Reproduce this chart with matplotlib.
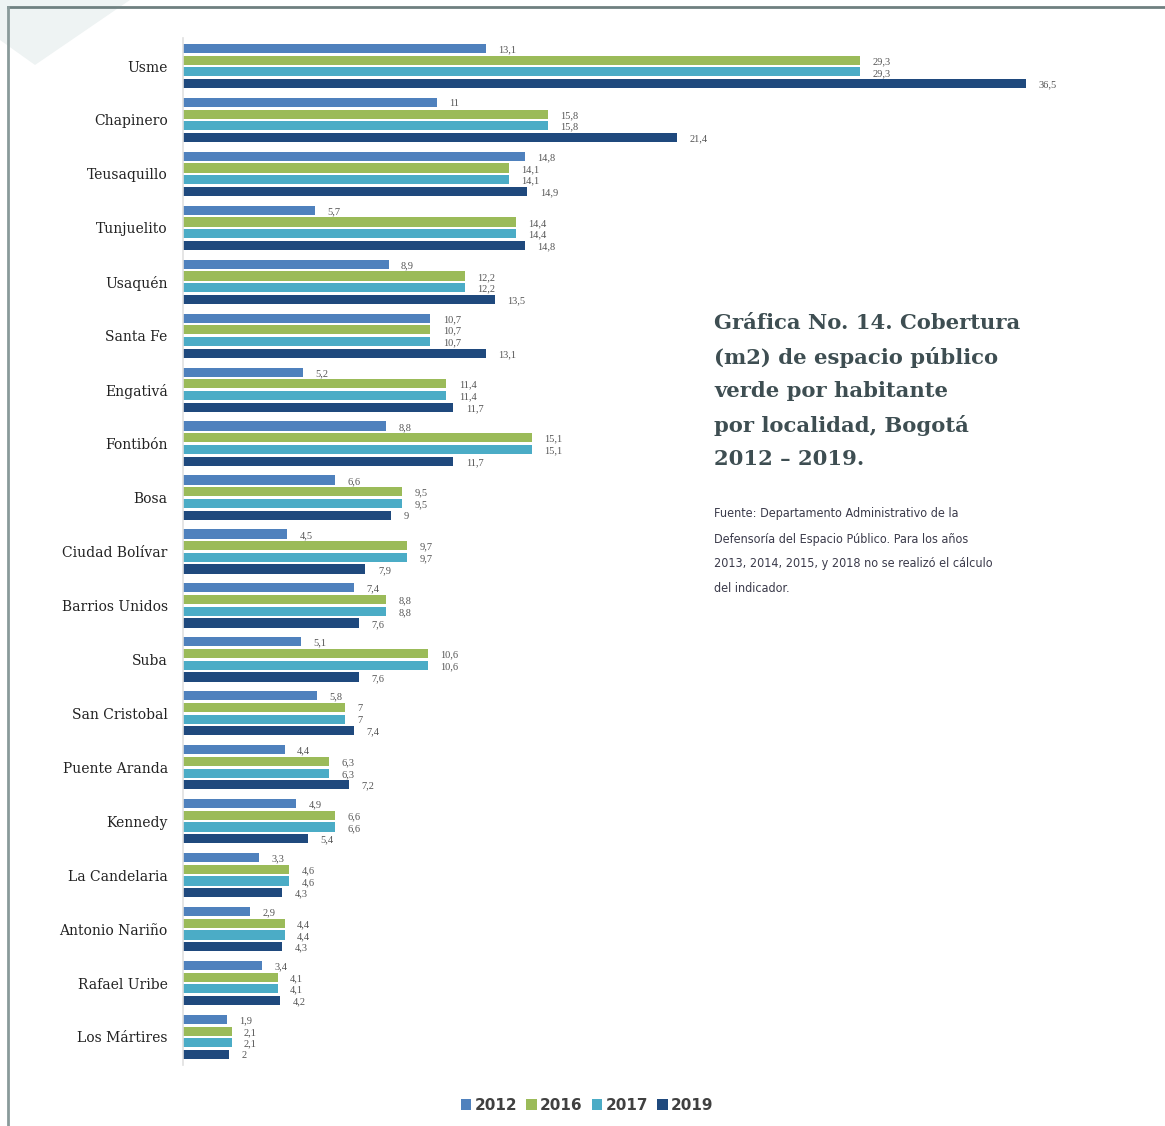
import matplotlib
matplotlib.use("Agg")
import matplotlib.pyplot as plt
import numpy as np
from matplotlib.patches import Polygon, Patch
from matplotlib.lines import Line2D

localidades = ["Usme", "Chapinero", "Teusaquillo", "Tunjuelito", "Usaquén", "Santa Fe",
               "Engativá", "Fontibón", "Bosa", "Ciudad Bolívar", "Barrios Unidos", "Suba",
               "San Cristobal", "Puente Aranda", "Kennedy", "La Candelaria", "Antonio Nariño",
               "Rafael Uribe", "Los Mártires"]
v2012 = [13.1, 11, 14.8, 5.7, 8.9, 10.7, 5.2, 8.8, 6.6, 4.5, 7.4, 5.1, 5.8, 4.4, 4.9, 3.3, 2.9, 3.4, 1.9]
v2016 = [29.3, 15.8, 14.1, 14.4, 12.2, 10.7, 11.4, 15.1, 9.5, 9.7, 8.8, 10.6, 7, 6.3, 6.6, 4.6, 4.4, 4.1, 2.1]
v2017 = [29.3, 15.8, 14.1, 14.4, 12.2, 10.7, 11.4, 15.1, 9.5, 9.7, 8.8, 10.6, 7, 6.3, 6.6, 4.6, 4.4, 4.1, 2.1]
v2019 = [36.5, 21.4, 14.9, 14.8, 13.5, 13.1, 11.7, 11.7, 9, 7.9, 7.6, 7.6, 7.4, 7.2, 5.4, 4.3, 4.3, 4.2, 2]
years = ["2012", "2016", "2017", "2019"]
colors = ["#4F81BD", "#9BBB59", "#4BACC6", "#1F497D"]

series = [v2012, v2016, v2017, v2019]

W, H = 1165, 1126
fig = plt.figure(figsize=(W / 100, H / 100), dpi=100)
fig.patch.set_facecolor("white")

# decorative frame
fig.add_artist(Polygon([[0, 1], [130 / W, 1], [35 / W, 1 - 65 / H], [0, 1 - 40 / H]],
                       closed=True, transform=fig.transFigure, facecolor="#eef3f3",
                       edgecolor="none", zorder=0))
fig.add_artist(Line2D([8 / W, 1], [1 - 7 / H, 1 - 7 / H], transform=fig.transFigure,
                      color="#6f8080", lw=2))
fig.add_artist(Line2D([8 / W, 8 / W], [0, 1 - 7 / H], transform=fig.transFigure,
                      color="#8a9a9a", lw=2))

ax_left, ax_right = 183, 183 + 924
ax_top, ax_bot = 38, 1065
ax = fig.add_axes([ax_left / W, 1 - ax_bot / H, (ax_right - ax_left) / W, (ax_bot - ax_top) / H])
ax.set_xlim(0, 40)
n = len(localidades)
ax.set_ylim(n - 1 + 0.52, -0.52)

y = np.arange(n)
step = 0.217
bh = 0.17
for k, (vals, col) in enumerate(zip(series, colors)):
    pos = y + (k - 1.5) * step
    ax.barh(pos, vals, height=bh, color=col, zorder=2)
    for p, v in zip(pos, vals):
        txt = (f"{v:.1f}".replace(".", ",") if v != int(v) else f"{int(v)}")
        ax.annotate(txt, (v, p), xytext=(9, -1), textcoords="offset points",
                    ha="left", va="center", fontsize=7.5, color="#555555",
                    family="Liberation Serif")

ax.set_yticks(y)
ax.set_yticklabels(localidades, family="DejaVu Serif", fontsize=10, color="#222222")
ax.tick_params(axis="y", length=0, pad=11)
ax.tick_params(axis="x", length=0, labelbottom=False)
for s in ["top", "right", "bottom"]:
    ax.spines[s].set_visible(False)
ax.spines["left"].set_color("#e0e0e0")
ax.spines["left"].set_linewidth(1.2)

# title
title_lines = ["Gráfica No. 14. Cobertura", "(m2) de espacio público",
               "verde por habitante", "por localidad, Bogotá", "2012 – 2019."]
for i, line in enumerate(title_lines):
    fig.text(714 / W, 1 - (323 + 34 * i) / H, line, family="DejaVu Serif", weight="bold",
             fontsize=15.2, color="#3e4e52", ha="left", va="center")

note_lines = ["Fuente: Departamento Administrativo de la",
              "Defensoría del Espacio Público. Para los años",
              "2013, 2014, 2015, y 2018 no se realizó el cálculo",
              "del indicador."]
for i, line in enumerate(note_lines):
    fig.text(714 / W, 1 - (514 + 25 * i) / H, line,
             family="DejaVu Sans", stretch="condensed",
             fontsize=9.0, color="#3a3a4a", ha="left", va="center")

handles = [Patch(facecolor=c, edgecolor="none") for c in colors]
fig.legend(handles, years, loc="center", bbox_to_anchor=(587 / W, 1 - 1105 / H),
           ncol=4, frameon=False, handlelength=0.7, handleheight=0.7, handletextpad=0.2,
           columnspacing=0.6, prop={"family": "DejaVu Sans", "size": 11, "weight": "bold"},
           labelcolor="#404040")

fig.savefig("out.png", dpi=100, facecolor="white")
